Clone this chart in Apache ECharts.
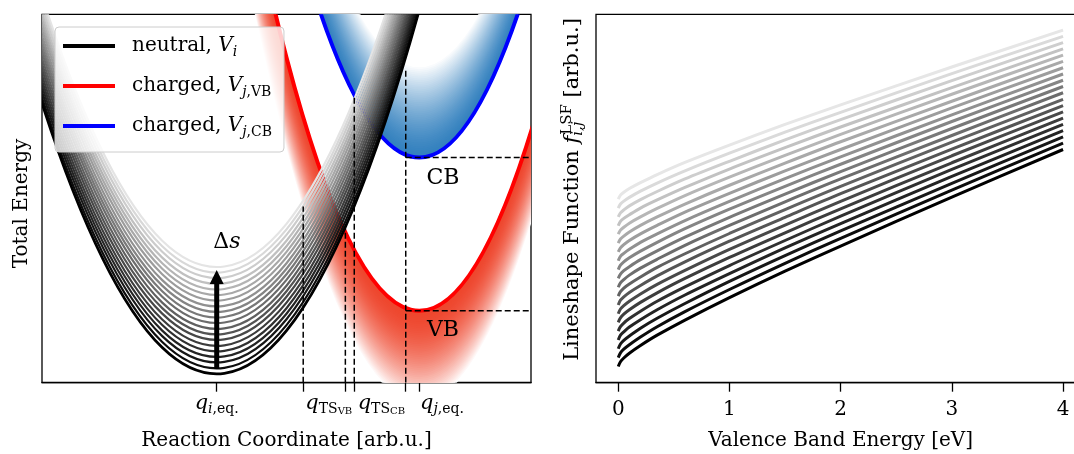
<!DOCTYPE html>
<html><head><meta charset="utf-8">
<script src="https://cdn.jsdelivr.net/npm/echarts@6/dist/echarts.min.js"></script>
<style>html,body{margin:0;padding:0;background:#fff}#c{width:1074px;height:454px}</style>
</head><body><div id="c"></div>
<script>
// ================= DATA =================
// ---- left panel: configuration-coordinate diagram ----
const neutralCenter = 0;            // q_i,eq
const neutralCurvature = 9.88;
const neutralMinima = [0.24,0.39,0.55,0.70,0.85,1.00,1.16,1.31,1.46,1.62,1.77,1.92,2.07,2.23,2.38,2.53,2.68,2.84,2.99,3.14];
const vbParabola = [1, 1.95, 16.0];  // centre q_j,eq, minimum, curvature
const cbParabola = [1, 6.11, 16.5];
const bandEnergies = [2.5,2.45,2.4,2.35,2.3,2.25,2.2,2.15,2.1,2.05,2.0,1.95,1.9,1.85,1.8,1.75,1.7,1.65,1.6,1.55,1.5,1.45,1.4,1.35,1.3,1.25,1.2,1.15,1.1,1.05,1.0,0.95,0.9,0.85,0.8,0.75,0.7,0.65,0.6,0.55,0.5,0.45,0.4,0.35,0.3,0.25,0.2,0.15,0.1,0.05];
const qTicks = [0, 0.427, 0.635, 0.679, 0.933, 1];
const qLabelAt = [0, 0.553, 0.8125, 1.112];
const qLabelText = ['{q|q}{si|i}{s|,eq.}', '{q|q}{s|TS}{ss|VB}', '{q|q}{s|TS}{ss|CB}', '{q|q}{si|j}{s|,eq.}'];
const dashedVertical = [[0.427, 4.78], [0.635, 4.20], [0.679, 7.76], [0.933, 8.49]];
const dashedHorizontal = [[0.933, 1.95], [0.933, 6.11]];
const shiftArrow = [[0, 0.37, 3.06]];
const notes = [[0.05, 3.82, 'Δ{it|s}'], [1.117, 5.56, 'CB'], [1.117, 1.43, 'VB']];

// ---- right panel: lineshape functions ----
const vbEnergy = [0, 0.02, 0.05, 0.1, 0.2, 0.35, 0.6, 1, 1.5, 2, 3, 4];
const vbTicks = [0, 1, 2, 3, 4];
const lsf0  = [0.44,0.57,0.67,0.80,1.01,1.29,1.70,2.31,3.03,3.71,5.04,6.33];
const lsf1  = [0.68,0.81,0.91,1.03,1.24,1.52,1.93,2.53,3.24,3.92,5.23,6.50];
const lsf2  = [0.92,1.05,1.15,1.27,1.48,1.75,2.15,2.75,3.45,4.12,5.41,6.67];
const lsf3  = [1.16,1.29,1.38,1.51,1.71,1.98,2.38,2.96,3.66,4.32,5.60,6.84];
const lsf4  = [1.40,1.52,1.62,1.74,1.94,2.21,2.60,3.18,3.86,4.52,5.79,7.01];
const lsf5  = [1.64,1.76,1.86,1.98,2.18,2.44,2.83,3.40,4.07,4.72,5.97,7.18];
const lsf6  = [1.87,2.00,2.09,2.21,2.41,2.67,3.05,3.62,4.28,4.92,6.16,7.35];
const lsf7  = [2.11,2.24,2.33,2.45,2.64,2.90,3.28,3.84,4.49,5.13,6.34,7.52];
const lsf8  = [2.35,2.47,2.57,2.68,2.87,3.13,3.50,4.05,4.70,5.33,6.53,7.69];
const lsf9  = [2.59,2.71,2.80,2.92,3.11,3.35,3.73,4.27,4.91,5.53,6.71,7.87];
const lsf10 = [2.83,2.95,3.04,3.15,3.34,3.58,3.95,4.49,5.12,5.73,6.90,8.04];
const lsf11 = [3.07,3.19,3.28,3.39,3.57,3.81,4.18,4.71,5.33,5.93,7.09,8.21];
const lsf12 = [3.31,3.43,3.51,3.62,3.81,4.04,4.40,4.92,5.54,6.13,7.27,8.38];
const lsf13 = [3.55,3.66,3.75,3.86,4.04,4.27,4.63,5.14,5.75,6.33,7.46,8.55];
const lsf14 = [3.79,3.90,3.98,4.09,4.27,4.50,4.85,5.36,5.96,6.54,7.64,8.72];
const lsf15 = [4.03,4.14,4.22,4.33,4.50,4.73,5.08,5.58,6.17,6.74,7.83,8.89];
const lsf16 = [4.26,4.38,4.46,4.56,4.74,4.96,5.30,5.80,6.38,6.94,8.01,9.06];
const lsf17 = [4.50,4.61,4.69,4.80,4.97,5.19,5.53,6.01,6.59,7.14,8.20,9.23];
const lsf18 = [4.74,4.85,4.93,5.03,5.20,5.42,5.75,6.23,6.80,7.34,8.39,9.40];
const lsf19 = [4.98,5.09,5.17,5.27,5.43,5.65,5.98,6.45,7.01,7.54,8.57,9.57];
const lsfCurves = [lsf0,lsf1,lsf2,lsf3,lsf4,lsf5,lsf6,lsf7,lsf8,lsf9,lsf10,lsf11,lsf12,lsf13,lsf14,lsf15,lsf16,lsf17,lsf18,lsf19];

// ================= STYLE / HELPERS =================
const F = "'DejaVu Serif','Liberation Serif',serif";
const XL = [-0.8623, 1.5513], YL = [0, 10];
const XR = [-0.2, 4.2], YR = [0, 10];
function rs(size, o) { return Object.assign({fontFamily: F, fontSize: size, color: '#000'}, o || {}); }
function grey(k, n, maxLevel) { const g = Math.round(maxLevel * k / (n - 1)); return 'rgb(' + g + ',' + g + ',' + g + ')'; }
function mixWhite(c, t, p) { const s = Math.pow(t, p); return 'rgb(' + c.map(v => Math.round(v + (255 - v) * s)).join(',') + ')'; }

function parab(api, h, m, c) {
  const x0 = XL[0] - 0.02, x1 = XL[1] + 0.02;
  const y0 = m + c * (x0 - h) * (x0 - h), y1 = m + c * (x1 - h) * (x1 - h);
  const xm = (x0 + x1) / 2, ym = y0 + 2 * c * (x0 - h) * (xm - x0);
  return [api.coord([x0, y0]), api.coord([xm, ym]), api.coord([x1, y1])];
}
function curveEl(p, color, w) {
  return {type: 'bezierCurve', shape: {x1: p[0][0], y1: p[0][1], cpx1: p[1][0], cpy1: p[1][1], x2: p[2][0], y2: p[2][1]},
          style: {stroke: color, lineWidth: w, fill: 'none'}};
}
function bandEl(a, b, color) {
  const f = p => p[0].toFixed(2) + ' ' + p[1].toFixed(2);
  return {type: 'path', shape: {pathData: 'M' + f(a[0]) + 'Q' + f(a[1]) + ' ' + f(a[2]) + 'L' + f(b[2]) + 'Q' + f(b[1]) + ' ' + f(b[0]) + 'Z'},
          style: {fill: color, stroke: 'none'}};
}

const RED0 = [238, 70, 45], BLUE0 = [50, 128, 190];
const left = {xAxisIndex: 0, yAxisIndex: 0, coordinateSystem: 'cartesian2d', clip: true, silent: true};

const series = [];
series.push(Object.assign({type: 'custom', name: 'vbShade', data: bandEnergies.map(e => [e, 0]),
  renderItem: (params, api) => {
    const e = bandEnergies[params.dataIndex];
    const a = parab(api, vbParabola[0], vbParabola[1], vbParabola[2]);
    const b = parab(api, vbParabola[0], vbParabola[1] - e, vbParabola[2]);
    return bandEl(a, b, mixWhite(RED0, e / 2.5, 1.8));
  }, z: 1}, left));
series.push(Object.assign({type: 'custom', name: 'cbShade', data: bandEnergies.map(e => [e, 0]),
  renderItem: (params, api) => {
    const e = bandEnergies[params.dataIndex];
    const a = parab(api, cbParabola[0], cbParabola[1], cbParabola[2]);
    const b = parab(api, cbParabola[0], cbParabola[1] + e, cbParabola[2]);
    return bandEl(a, b, mixWhite(BLUE0, e / 2.5, 1.5));
  }, z: 1}, left));
series.push(Object.assign({type: 'custom', name: 'vb', itemStyle: {color: '#ff0000'}, data: [vbParabola],
  renderItem: (params, api) => curveEl(parab(api, vbParabola[0], vbParabola[1], vbParabola[2]), '#ff0000', 4), z: 2}, left));
series.push(Object.assign({type: 'custom', name: 'cb', itemStyle: {color: '#0000ff'}, data: [cbParabola],
  renderItem: (params, api) => curveEl(parab(api, cbParabola[0], cbParabola[1], cbParabola[2]), '#0000ff', 4), z: 2}, left));
const neutralOrder = neutralMinima.map((m, k) => [k, m]).reverse();
series.push(Object.assign({type: 'custom', name: 'neutral', itemStyle: {color: '#000'}, data: neutralOrder,
  renderItem: (params, api) => {
    const d = neutralOrder[params.dataIndex];
    return curveEl(parab(api, neutralCenter, d[1], neutralCurvature), grey(d[0], neutralMinima.length, 228), d[0] === 0 ? 2.8 : 2.2);
  }, z: 3}, left));
const dashSegs = dashedVertical.map(d => [d[0], YL[0], d[0], d[1]]).concat(dashedHorizontal.map(d => [d[0], d[1], XL[1], d[1]]));
series.push(Object.assign({type: 'custom', name: 'guides', data: dashSegs,
  renderItem: (params, api) => {
    const s = dashSegs[params.dataIndex];
    const p = api.coord([s[0], s[1]]), q = api.coord([s[2], s[3]]);
    return {type: 'line', shape: {x1: p[0], y1: p[1], x2: q[0], y2: q[1]}, style: {stroke: '#000', lineWidth: 1.5, lineDash: [6, 3]}};
  }, z: 4}, left));
series.push(Object.assign({type: 'custom', name: 'arrow', data: shiftArrow,
  renderItem: (params, api) => {
    const a = shiftArrow[params.dataIndex];
    const b = api.coord([a[0], a[1]]), t = api.coord([a[0], a[2]]);
    const hl = 14, hw = 7;
    return {type: 'group', children: [
      {type: 'line', shape: {x1: b[0], y1: b[1], x2: t[0], y2: t[1] + hl - 1}, style: {stroke: '#000', lineWidth: 5}},
      {type: 'polygon', shape: {points: [[t[0], t[1]], [t[0] - hw, t[1] + hl], [t[0] + hw, t[1] + hl]]}, style: {fill: '#000'}}
    ]};
  }, z: 5}, left));
series.push(Object.assign({type: 'custom', name: 'notes', data: notes.map(n => [n[0], n[1]]),
  renderItem: (params, api) => {
    const n = notes[params.dataIndex];
    const p = api.coord([n[0], n[1]]);
    return {type: 'text', x: p[0], y: p[1], style: {text: n[2], align: 'center', verticalAlign: 'middle',
      font: '22px ' + F, fill: '#000', rich: {it: rs(22, {fontStyle: 'italic'})}}};
  }, z: 6}, {clip: false, xAxisIndex: 0, yAxisIndex: 0, coordinateSystem: 'cartesian2d', silent: true}));

lsfCurves.forEach((vals, k) => {
  series.push({type: 'line', xAxisIndex: 1, yAxisIndex: 1, name: 'lsf' + k, silent: true,
    data: vbEnergy.map((x, i) => [x, vals[i]]), symbol: 'none', smooth: 0.3,
    lineStyle: {width: 3, color: grey(k, lsfCurves.length, 230)}, z: 2});
});

const axisLineStyle = {color: '#000', width: 1.3};
const legendRich = {
  sp: rs(20, {width: 12, lineHeight: 26}),
  t: rs(20, {lineHeight: 26}),
  it: rs(20, {fontStyle: 'italic', lineHeight: 26}),
  subit: rs(14, {fontStyle: 'italic', lineHeight: 12, verticalAlign: 'bottom'}),
  sub: rs(14, {lineHeight: 12, verticalAlign: 'bottom'})
};
const legendText = {
  neutral: '{sp| }{t|neutral, }{it|V}{subit|i}',
  vb: '{sp| }{t|charged, }{it|V}{subit|j}{sub|,VB}',
  cb: '{sp| }{t|charged, }{it|V}{subit|j}{sub|,CB}'
};

const option = {
  animation: false,
  backgroundColor: '#fff',
  textStyle: {fontFamily: F},
  grid: [
    {left: 42, top: 14.3, width: 489, height: 368.4, show: true, borderColor: '#000', borderWidth: 1.3, backgroundColor: 'transparent', containLabel: false, outerBoundsMode: 'none'},
    {left: 596, top: 14.3, width: 489.3, height: 368.4, show: true, borderColor: '#000', borderWidth: 1.3, backgroundColor: 'transparent', containLabel: false, outerBoundsMode: 'none'}
  ],
  xAxis: [
    {type: 'value', gridIndex: 0, min: XL[0], max: XL[1], splitLine: {show: false},
     axisLine: {show: true, onZero: false, lineStyle: axisLineStyle},
     axisTick: {show: true, customValues: qTicks, length: 9, lineStyle: axisLineStyle},
     axisLabel: {show: true, customValues: qLabelAt, margin: 8,
       formatter: v => { const i = qLabelAt.findIndex(p => Math.abs(p - v) < 1e-6); return i < 0 ? '' : qLabelText[i]; },
       rich: {
         q: rs(21, {fontStyle: 'italic', lineHeight: 26}),
         si: rs(14, {fontStyle: 'italic', lineHeight: 12, verticalAlign: 'bottom'}),
         s: rs(14, {lineHeight: 12, verticalAlign: 'bottom'}),
         ss: rs(10, {lineHeight: 4, verticalAlign: 'bottom'})
       }},
     name: 'Reaction Coordinate [arb.u.]', nameLocation: 'middle', nameGap: 58,
     nameTextStyle: rs(20, {verticalAlign: 'middle'})},
    {type: 'value', gridIndex: 1, min: XR[0], max: XR[1], splitLine: {show: false},
     axisLine: {show: true, onZero: false, lineStyle: axisLineStyle},
     axisTick: {show: true, customValues: vbTicks, length: 9, lineStyle: axisLineStyle},
     axisLabel: {show: true, customValues: vbTicks, margin: 14, formatter: v => String(Math.round(v)),
       fontFamily: F, fontSize: 20, lineHeight: 26, color: '#000'},
     name: 'Valence Band Energy [eV]', nameLocation: 'middle', nameGap: 58,
     nameTextStyle: rs(20, {verticalAlign: 'middle'})}
  ],
  yAxis: [
    {type: 'value', gridIndex: 0, min: YL[0], max: YL[1], splitLine: {show: false},
     axisLine: {show: false}, axisTick: {show: false}, axisLabel: {show: false},
     name: 'Total Energy', nameLocation: 'middle', nameGap: 20, nameRotate: 90,
     nameTextStyle: rs(20, {verticalAlign: 'middle', padding: [0, 0, 0, -10]})},
    {type: 'value', gridIndex: 1, min: YR[0], max: YR[1], splitLine: {show: false},
     axisLine: {show: false}, axisTick: {show: false}, axisLabel: {show: false},
     name: '{t|Lineshape Function }{it|f}{sub|i,j}{sup|LSF}{t| [arb.u.]}', nameLocation: 'middle', nameGap: 23, nameRotate: 90,
     nameTextStyle: Object.assign(rs(21, {verticalAlign: 'middle', padding: [0, 0, 0, 18]}), {rich: {
       t: rs(21, {lineHeight: 26, align: 'left'}),
       it: rs(21, {fontStyle: 'italic', lineHeight: 26, align: 'left'}),
       sub: rs(15, {fontStyle: 'italic', lineHeight: 12, verticalAlign: 'bottom', align: 'left', width: 1}),
       sup: rs(15, {lineHeight: 12, verticalAlign: 'top', align: 'left'})
     }})}
  ],
  legend: {
    show: true, left: 55, top: 27, orient: 'vertical', selectedMode: false,
    data: [{name: 'neutral', icon: 'rect', itemStyle: {color: '#000'}},
           {name: 'vb', icon: 'rect', itemStyle: {color: '#ff0000'}},
           {name: 'cb', icon: 'rect', itemStyle: {color: '#0000ff'}}],
    itemWidth: 52, itemHeight: 4, itemGap: 17,
    padding: [9, 12, 13, 8],
    backgroundColor: 'rgba(255,255,255,0.8)', borderColor: '#cccccc', borderWidth: 1, borderRadius: 4,
    formatter: name => legendText[name],
    textStyle: rs(20, {rich: legendRich})
  },
  series: series
};

const chart = echarts.init(document.getElementById('c'), null, {renderer: 'canvas'});
chart.setOption(option);
</script>
</body></html>
